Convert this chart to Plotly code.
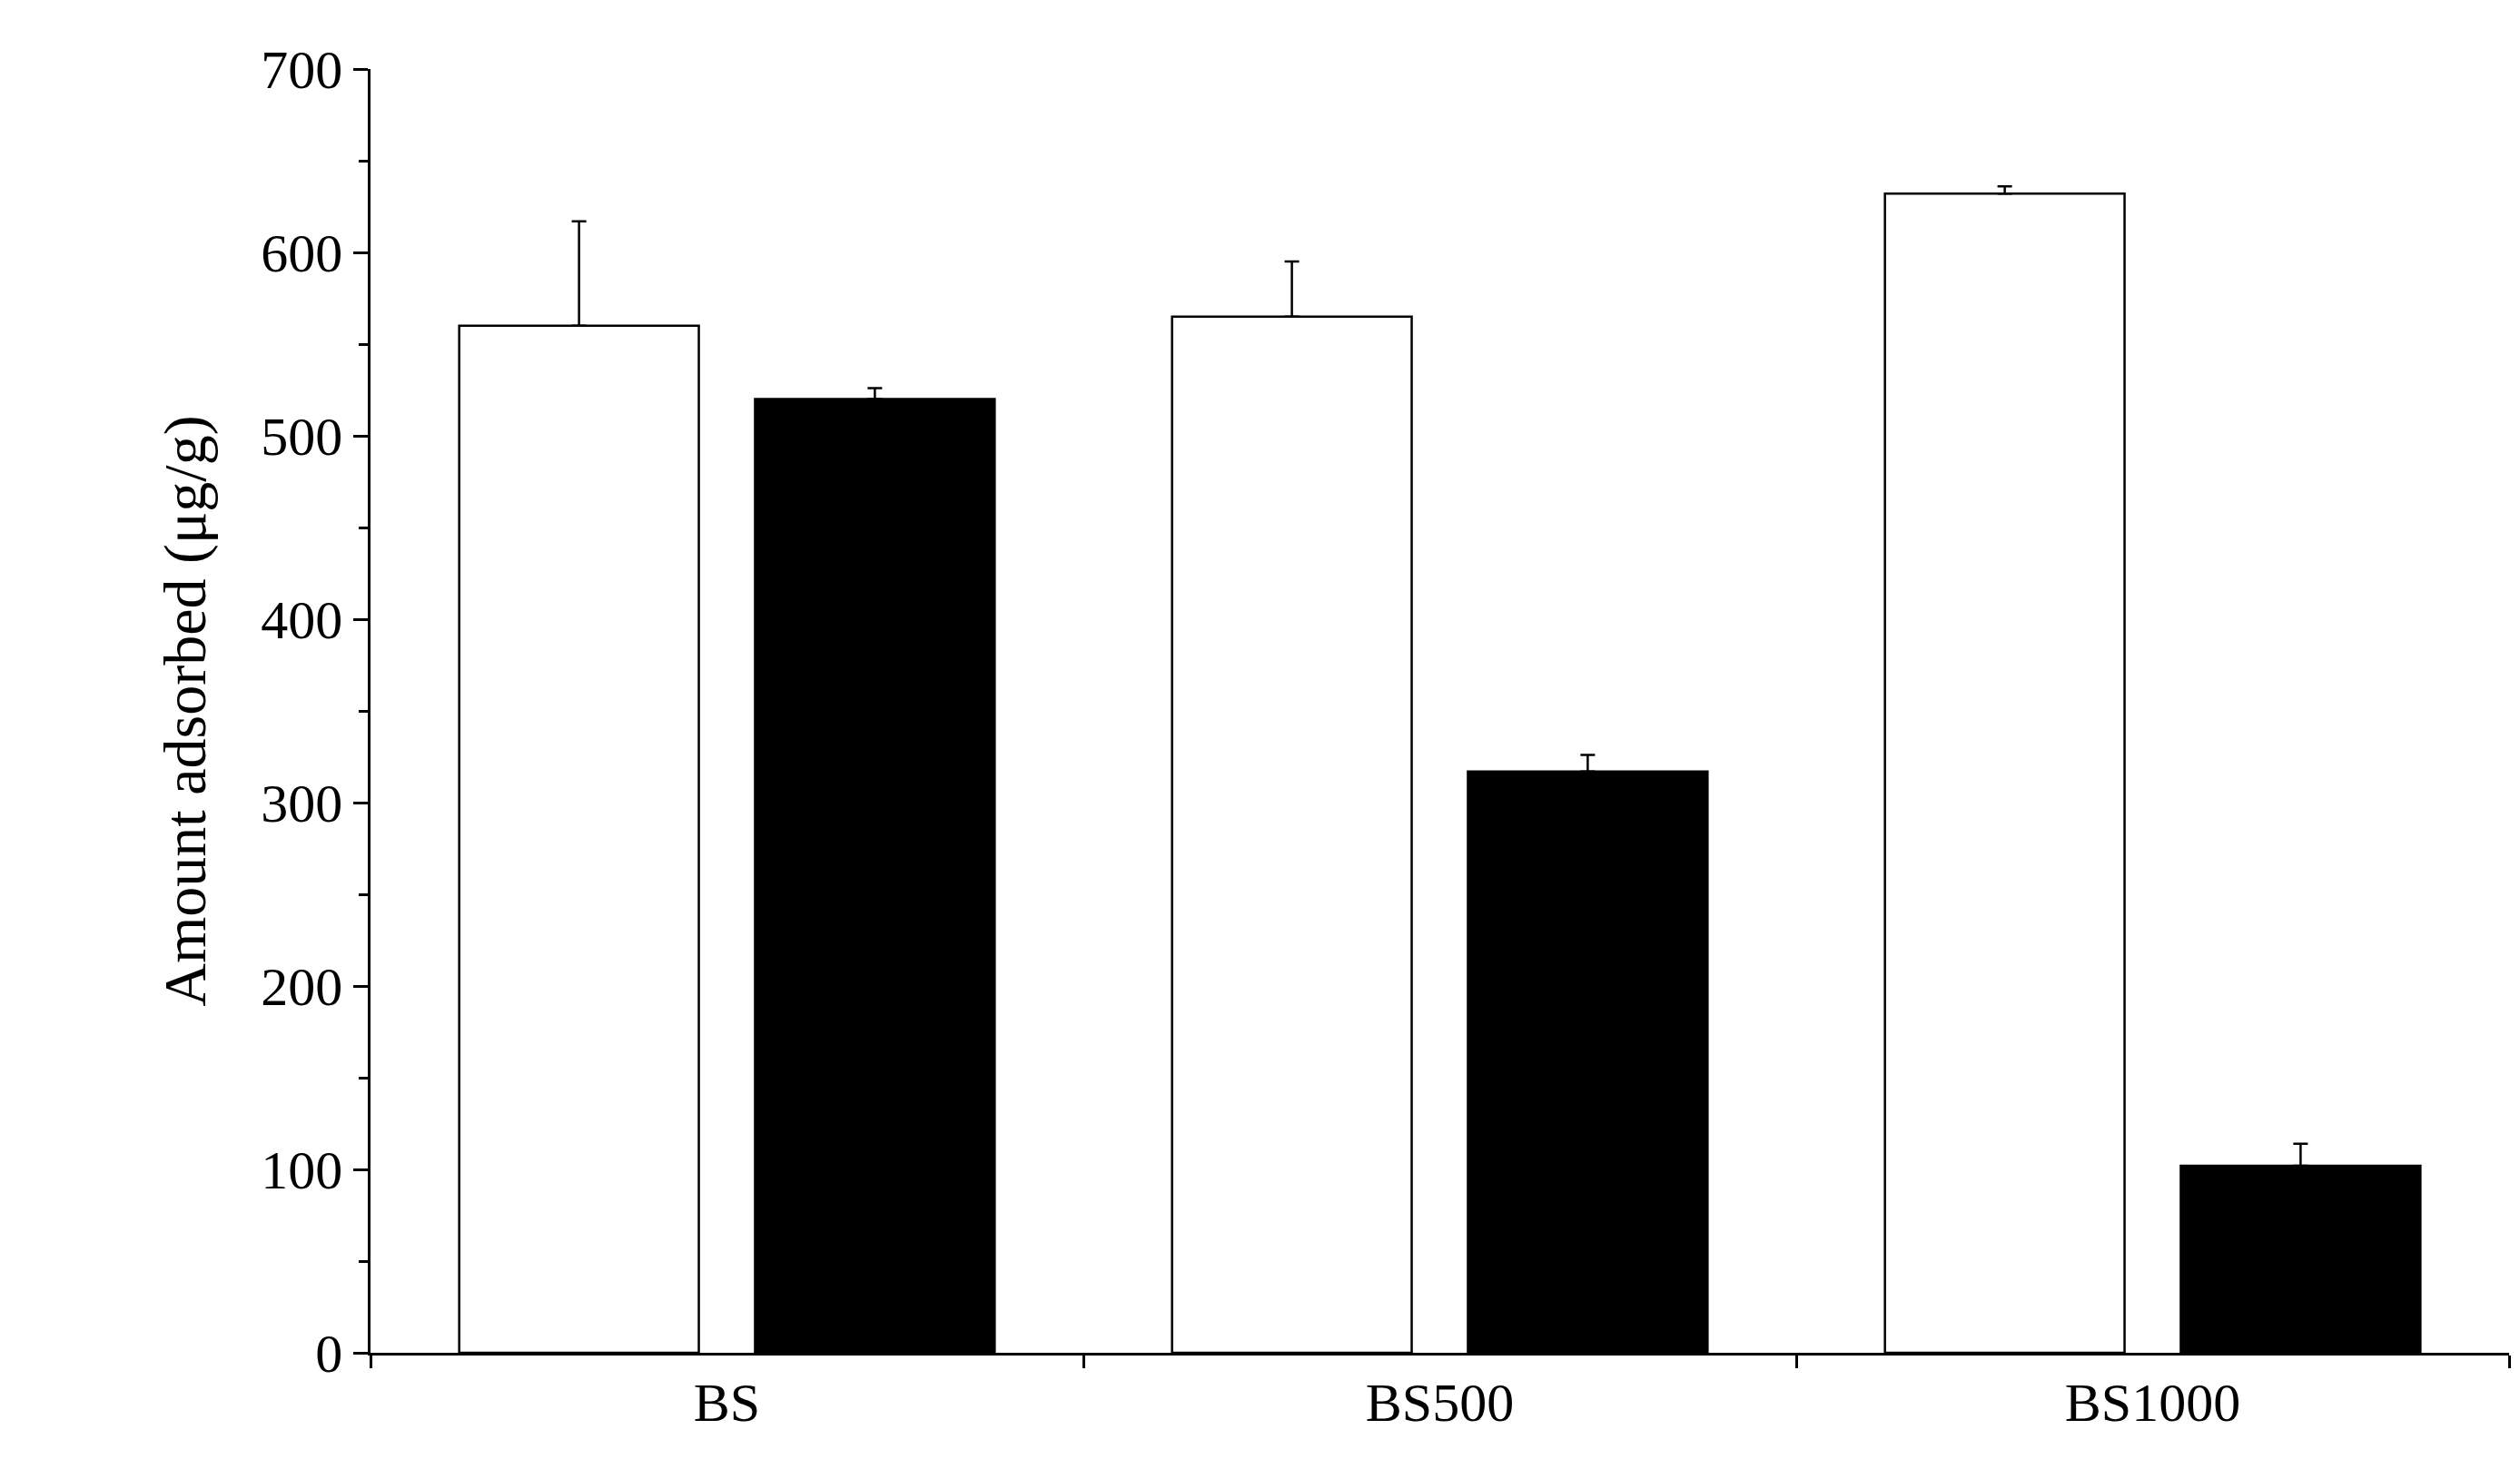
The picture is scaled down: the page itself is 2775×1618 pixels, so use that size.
import plotly.graph_objects as go

categories = ["BS", "BS500", "BS1000"]
white_vals = [560, 565, 632]
white_err = [57, 30, 4]
black_vals = [520, 317, 102]
black_err = [6, 9, 12]
yticks = [0, 100, 200, 300, 400, 500, 600, 700]

fig = go.Figure()
for vals, err, col in [(white_vals, white_err, "white"), (black_vals, black_err, "black")]:
    fig.add_trace(go.Bar(
        x=categories, y=vals, marker=dict(color=col, line=dict(color="black", width=2.5)),
        error_y=dict(type="data", array=err, arrayminus=[0]*len(err), symmetric=False,
                     color="black", thickness=2.5, width=8),
        showlegend=False))

font = dict(family="Liberation Serif", color="black")
fig.update_layout(
    width=2775, height=1618, plot_bgcolor="white", paper_bgcolor="white",
    margin=dict(l=400, r=20, t=68, b=136),
    bargap=0.17, bargroupgap=0.19,
    font=dict(**font, size=60),
    xaxis=dict(showline=True, linecolor="black", linewidth=2.5, ticks="outside",
               tickson="boundaries", ticklen=14, tickwidth=2.5, tickcolor="black",
               tickfont=dict(**font, size=60)),
    yaxis=dict(range=[0, 700], tickvals=yticks, showline=True, linecolor="black",
               linewidth=2.5, ticks="outside", ticklen=16, tickwidth=2.5,
               tickcolor="black", showgrid=False, zeroline=False,
               minor=dict(dtick=50, ticks="outside", ticklen=10, tickwidth=2.5, tickcolor="black"),
               tickfont=dict(**font, size=60),
               title=dict(text="Amount adsorbed (μg/g)", font=dict(**font, size=66), standoff=40)),
)
fig.write_html("out.html")
